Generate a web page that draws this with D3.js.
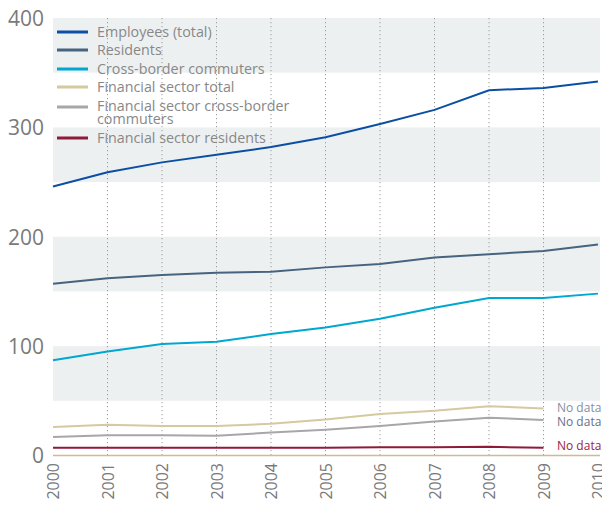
<!DOCTYPE html>
<html><head><meta charset="utf-8">
<script src="https://cdn.jsdelivr.net/npm/d3@7"></script>
<style>body{margin:0;background:#fff}svg{display:block}</style>
</head><body><svg id="c" width="602" height="506"></svg>
<script>
const years = [2000,2001,2002,2003,2004,2005,2006,2007,2008,2009,2010];
const employees = [246,259,268,275,282,291,303,316,334,336,342];
const residents = [157,162,165,167,168,172,175,181,184,187,193];
const crossBorder = [87,95,102,104,111,117,125,135,144,144,148];
const finTotal = [26,28,27,27,29,33,38,41,45,43,null];
const finCross = [17,18.5,18.5,18,21,23.5,27,31,34.5,32.5,null];
const finResidents = [7,7,7,7,7,7,7.5,7.5,8,7,null];
const seriesNames = ["Employees (total)","Residents","Cross-border commuters","Financial sector total","Financial sector cross-border commuters","Financial sector residents"];
const seriesColors = ["#0b4fa4","#46637f","#00a7d0","#d5c99f","#a7a7aa","#8f1a3a"];
const yTicks = [0,100,200,300,400];
const bands = [[50,100],[150,200],[250,300],[350,400]];
const noDataLabels = [{series:3,text:"No data",color:"#8a8e9c",dy:-1},{series:4,text:"No data",color:"#6b6f86",dy:1.5},{series:5,text:"No data",color:"#a01c40",dy:-2}];

const svg = d3.select("#c");
const font = "'Open Sans', sans-serif";
const x = d3.scaleLinear().domain([2000,2010]).range([53,598]);
const y = d3.scaleLinear().domain([0,400]).range([455.5,18]);

svg.append("g").selectAll("rect").data(bands).join("rect")
  .attr("x",53).attr("width",547)
  .attr("y",d=>y(d[1])).attr("height",d=>y(d[0])-y(d[1]))
  .attr("fill","#edf0f1");

svg.append("g").selectAll("line").data(years.slice(1,10)).join("line")
  .attr("x1",d=>x(d)).attr("x2",d=>x(d)).attr("y1",y(400)).attr("y2",y(0))
  .attr("stroke","#9a9a9a").attr("stroke-width",1).attr("stroke-dasharray","1.2,2.8");

svg.append("line").attr("x1",53).attr("x2",600).attr("y1",y(0)).attr("y2",y(0))
  .attr("stroke","#c9bd93").attr("stroke-width",1.5);

// y axis
const yAxis = d3.axisLeft(y).tickValues(yTicks).tickSize(0).tickPadding(0);
const gy = svg.append("g").attr("transform","translate(44,0)").call(yAxis);
gy.select(".domain").remove();
gy.selectAll("text").attr("font-family",font).attr("font-size",21).attr("fill","#7a7a7a").attr("dy","0.35em");

// x axis
const xAxis = d3.axisBottom(x).tickValues(years).tickFormat(d3.format("d")).tickSize(0).tickPadding(0);
const gx = svg.append("g").attr("transform","translate(0,462)").call(xAxis);
gx.select(".domain").remove();
gx.selectAll("text").attr("font-family",font).attr("font-size",16).attr("fill","#7a7a7a")
  .attr("text-anchor","end").attr("x",0).attr("y",0)
  .attr("dy","0.35em").attr("dx",-1)
  .attr("transform","rotate(-90)");

const allSeries = [employees,residents,crossBorder,finTotal,finCross,finResidents];
const line = d3.line().defined(d=>d!=null).x((d,i)=>x(years[i])).y(d=>y(d));
const order = [3,4,5,2,1,0];
svg.append("g").selectAll("path").data(order).join("path")
  .attr("d",i=>line(allSeries[i])).attr("fill","none")
  .attr("stroke",i=>seriesColors[i]).attr("stroke-width",2);

svg.append("g").selectAll("text").data(noDataLabels).join("text")
  .attr("x",557).attr("y",d=>y(allSeries[d.series][9])+d.dy).attr("dy","0.35em")
  .attr("font-family",font).attr("font-size",12).attr("fill",d=>d.color).text(d=>d.text);

// legend
const legY = [32,50,69,87,107,138];
const lg = svg.append("g");
seriesNames.forEach((n,i)=>{
  lg.append("line").attr("x1",57).attr("x2",88).attr("y1",legY[i]).attr("y2",legY[i])
    .attr("stroke",seriesColors[i]).attr("stroke-width",3);
  const t = lg.append("text").attr("x",97).attr("y",legY[i]).attr("dy","0.35em")
    .attr("font-family",font).attr("font-size",14.3).attr("fill","#888");
  if(i===4){
    t.attr("y",legY[i]-1);
    t.append("tspan").attr("x",97).text("Financial sector cross-border");
    t.append("tspan").attr("x",97).attr("dy","12.5").text("commuters");
  } else t.text(n);
});
</script></body></html>
